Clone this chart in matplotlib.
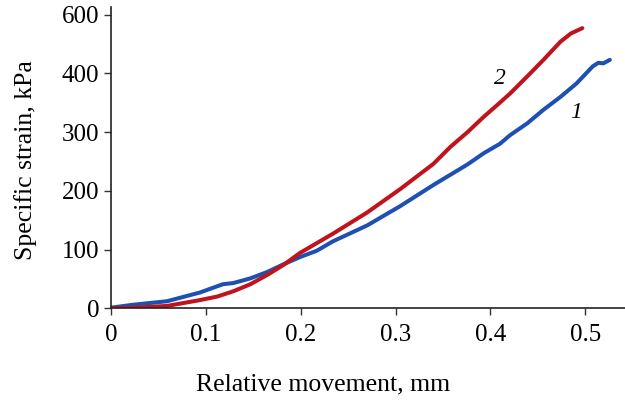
import matplotlib
matplotlib.use("Agg")
import matplotlib.pyplot as plt
from matplotlib import font_manager as fm

# curve 2 (red)
x2 = [0.0, 0.023, 0.059, 0.094, 0.112, 0.129, 0.147, 0.165, 0.182, 0.199,
      0.217, 0.234, 0.270, 0.305, 0.340, 0.358, 0.376, 0.393, 0.410, 0.421,
      0.439, 0.456, 0.474, 0.485, 0.497]
y2 = [0, 1, 4, 14, 20, 29, 41, 57, 74, 94,
      111, 127, 163, 203, 246, 275, 300, 326, 350, 366,
      395, 423, 454, 468, 477]

# curve 1 (blue)
x1 = [0.0, 0.023, 0.059, 0.094, 0.118, 0.129, 0.147, 0.165, 0.182, 0.199,
      0.217, 0.234, 0.270, 0.305, 0.340, 0.376, 0.393, 0.410, 0.421, 0.439,
      0.456, 0.474, 0.491, 0.508, 0.514, 0.519, 0.526]
y1 = [1, 6, 12, 27, 41, 43, 51, 62, 75, 87,
      98, 114, 141, 174, 210, 245, 264, 280, 295, 315,
      338, 360, 383, 412, 418, 417, 423]

xticks = [0, 0.1, 0.2, 0.3, 0.4, 0.5]
xticklabels = ["0", "0.1", "0.2", "0.3", "0.4", "0.5"]
yticks = [0, 100, 200, 300, 400, 500]
yticklabels = ["0", "100", "200", "300", "400", "600"]

fdir = "/usr/share/fonts/truetype/liberation/"
for f in ["LiberationSerif-Regular.ttf", "LiberationSerif-Italic.ttf"]:
    try:
        fm.fontManager.addfont(fdir + f)
    except Exception:
        pass
serif = fm.FontProperties(fname=fdir + "LiberationSerif-Regular.ttf").get_name()
plt.rcParams["font.family"] = [serif, "DejaVu Serif"]

fig = plt.figure(figsize=(6.25, 4.08), dpi=100)
ax = fig.add_axes([111/625, 1-308.3/408, 1-111/625, (308.3-7)/408])

ax.plot(x1, y1, color="#1d50b2", lw=2.9, solid_capstyle="round")
ax.plot(x2, y2, color="#c0141c", lw=2.9, solid_capstyle="round")

ax.set_xlim(0, 0.542)
ax.set_ylim(0, 513)
ax.set_xticks(xticks)
ax.set_xticklabels(xticklabels)
ax.set_yticks(yticks)
ax.set_yticklabels(yticklabels)
ax.tick_params(labelsize=18, length=5, width=1, color="#333333")
ax.tick_params(axis="x", pad=6)
ax.tick_params(axis="y", pad=3.5)

for s in ["top", "right"]:
    ax.spines[s].set_visible(False)
for s in ["left", "bottom"]:
    ax.spines[s].set_linewidth(1.2)
    ax.spines[s].set_color("#222222")

ax.text(0.410, 392, "2", fontsize=17, style="italic", ha="center", va="center")
ax.text(0.490, 333, "1", fontsize=17, style="italic", ha="center", va="center")

fig.text(323/625, 1-384/408, "Relative movement, mm", fontsize=18.5,
         ha="center", va="center")
fig.text(26/625, 1-160/408, "Specific strain, kPa", fontsize=18.5,
         rotation=90, ha="center", va="center")

fig.savefig("out.png", dpi=100)
